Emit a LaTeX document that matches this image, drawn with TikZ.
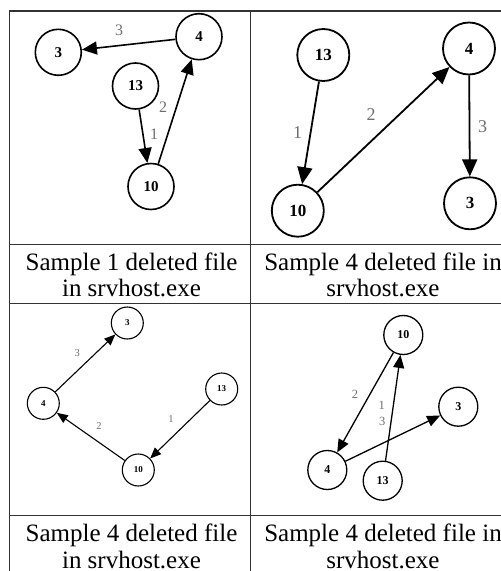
\documentclass[tikz,border=0pt]{standalone}
\usepackage{fontspec}
\setmainfont{Liberation Serif}
\usetikzlibrary{arrows.meta}
\definecolor{labgray}{HTML}{6E6E6E}
\definecolor{rulegray}{HTML}{333333}
\tikzset{
  nA/.style={circle, draw, line width=1.6pt, minimum size=46pt, inner sep=0pt, font=\fontsize{15}{15}\selectfont\bfseries},
  eA/.style={-{Triangle[length=15pt,width=13pt]}, line width=1.6pt},
  lA/.style={text=labgray, inner sep=0pt, font=\fontsize{16}{16}\selectfont},
  nB/.style={circle, draw, line width=1.8pt, minimum size=52pt, inner sep=0pt, font=\fontsize{17}{17}\selectfont\bfseries},
  eB/.style={-{Triangle[length=17pt,width=15pt]}, line width=1.8pt},
  lB/.style={text=labgray, inner sep=0pt, font=\fontsize{18}{18}\selectfont},
  nC/.style={circle, draw, line width=1.1pt, minimum size=32pt, inner sep=0pt, font=\fontsize{9}{9}\selectfont\bfseries},
  eC/.style={-{Triangle[length=11pt,width=9pt]}, line width=1.1pt},
  lC/.style={text=labgray, inner sep=0pt, font=\fontsize{10.5}{10.5}\selectfont},
  nD/.style={circle, draw, line width=1.3pt, minimum size=39pt, inner sep=0pt, font=\fontsize{12}{12}\selectfont\bfseries},
  eD/.style={-{Triangle[length=13pt,width=11pt]}, line width=1.3pt},
  lD/.style={text=labgray, inner sep=0pt, font=\fontsize{12.5}{12.5}\selectfont},
  caption/.style={align=center, inner sep=0pt, anchor=base, font=\fontsize{25}{26.7}\selectfont},
  rule/.style={draw=rulegray, line width=1.4pt}
}
\begin{document}
\begin{tikzpicture}[x=1pt, y=-1pt]
\useasboundingbox (0,0) rectangle (501,571);
% table rules
\begin{scope}
\clip (0,0) rectangle (501,571);
\draw[rule] (9.5,11) -- (9.5,580);
\draw[rule] (250.7,11) -- (250.7,580);
\draw[rule] (8.8,11) -- (510,11);
\draw[rule] (8.8,244.5) -- (510,244.5);
\draw[rule] (8.8,303.5) -- (510,303.5);
\draw[rule] (8.8,515.5) -- (510,515.5);
\end{scope}
% graph 1 (top left)
\node[nA] (a3) at (58.3,52.3) {3};
\node[nA] (a4) at (199,36.7) {4};
\node[nA] (a13) at (135.5,86) {13};
\node[nA] (a10) at (151,186.5) {10};
\draw[eA] (a4) -- (a3);
\draw[eA] (a13) -- (a10);
\draw[eA] (a10) -- (a4);
\node[lA] (la3) at (119,30.7) {3};
\node[lA] (la1) at (154,134) {1};
\node[lA] (la2) at (163,107) {2};
% graph 2 (top right)
\node[nB] (b13) at (323.3,55) {13};
\node[nB] (b4) at (469,48.5) {4};
\node[nB] (b10) at (297.8,210.7) {10};
\node[nB] (b3) at (470,203.3) {3};
\draw[eB] (b13) -- (b10);
\draw[eB] (b10) -- (b4);
\draw[eB] (b4) -- (b3);
\node[lB] (lb1) at (297.7,132.7) {1};
\node[lB] (lb2) at (371,115) {2};
\node[lB] (lb3) at (482.7,126.7) {3};
% graph 3 (bottom left)
\node[nC] (c3) at (127.3,323) {3};
\node[nC] (c4) at (43.3,403.3) {4};
\node[nC] (c13) at (221.7,389) {13};
\node[nC] (c10) at (138.3,470) {10};
\draw[eC] (c4) -- (c3);
\draw[eC] (c10) -- (c4);
\draw[eC] (c13) -- (c10);
\node[lC] (lc3) at (77.3,353.3) {3};
\node[lC] (lc2) at (99,426.5) {2};
\node[lC] (lc1) at (171,419.5) {1};
% graph 4 (bottom right)
\node[nD] (d10) at (403.3,335) {10};
\node[nD] (d3) at (458.3,406.7) {3};
\node[nD] (d4) at (327.3,470) {4};
\node[nD] (d13) at (382.7,480.7) {13};
\draw[eD] (d10) -- (d4);
\draw[eD] (d13) -- (d10);
\draw[eD] (d4) -- (d3);
\node[lD] (ld2) at (355,394) {2};
\node[lD] (ld1) at (381.7,405) {1};
\node[lD] (ld3) at (382.3,421.7) {3};
% captions
\node[caption] (cap1) at (131.5,296.7) {Sample 1 deleted file\\in srvhost.exe};
\node[caption] (cap2) at (383,296.7) {Sample 4 deleted file in\\srvhost.exe};
\node[caption] (cap3) at (131.5,568) {Sample 4 deleted file\\in srvhost.exe};
\node[caption] (cap4) at (383,568) {Sample 4 deleted file in\\srvhost.exe};
\end{tikzpicture}
\end{document}
